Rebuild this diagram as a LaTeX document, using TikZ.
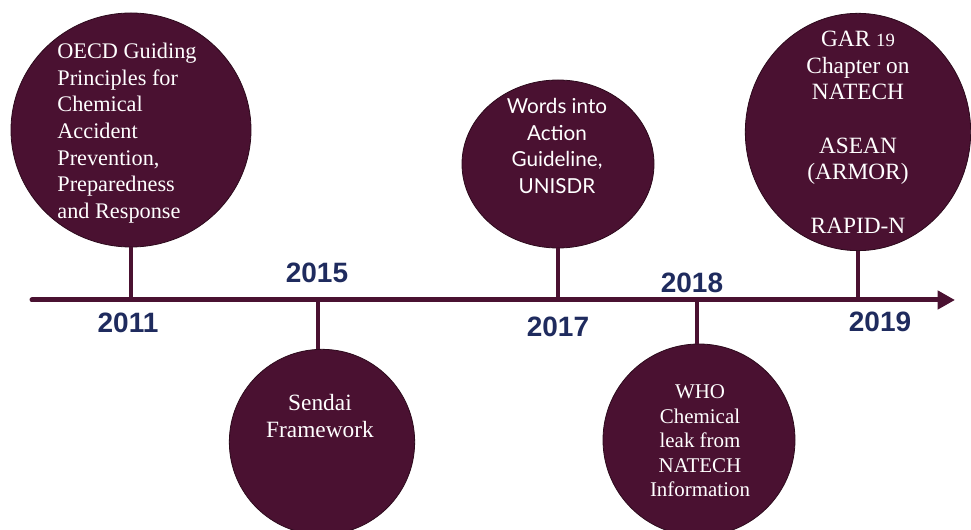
\documentclass[tikz,border=0pt]{standalone}
\usepackage{fontspec}
\setmainfont{Liberation Serif}
\newfontfamily\yearfont{Liberation Sans}
\newfontfamily\gillfont{Lato}
\usetikzlibrary{arrows.meta,shapes.geometric}
\definecolor{plum}{HTML}{4A1131}
\definecolor{plumedge}{HTML}{2C0A1C}
\definecolor{navy}{HTML}{1F2B5E}

\begin{document}
\begin{tikzpicture}[x=0.75pt,y=-0.75pt,
  bubble/.style={ellipse,fill=plum,draw=plumedge,line width=0.6pt,inner sep=0pt},
  btext/.style={text=white,align=center,inner sep=0pt},
  stem/.style={draw=plum,line width=3pt},
  year/.style={text=navy,font=\yearfont\bfseries\fontsize{21}{25}\selectfont}]
\useasboundingbox (0,0) rectangle (971,530);
\clip (0,0) rectangle (971,530);

% time axis
\coordinate (start) at (32,300);
\coordinate (end) at (955,300);
\coordinate (t2011) at (131,300);
\coordinate (t2015) at (318,300);
\coordinate (t2017) at (558,300);
\coordinate (t2018) at (697,300);
\coordinate (t2019) at (858,300);

% events above the axis
\node[bubble,minimum width=180pt,minimum height=175.5pt] (oecd) at (131,130) {};
\node[bubble,minimum width=144pt,minimum height=126pt] (wia) at (558,164) {};
\node[bubble,minimum width=169pt,minimum height=178pt] (gar) at (858,132) {};

% events below the axis
\node[bubble,minimum width=139pt,minimum height=139pt] (sendai) at (322,442) {};
\node[bubble,minimum width=144pt,minimum height=144pt] (who) at (699,440) {};

% stems
\draw[stem] (oecd) -- (t2011);
\draw[stem] (wia) -- (t2017);
\draw[stem] (gar) -- (t2019);
\draw[stem] (t2015) -- (t2015 |- sendai.north);
\draw[stem] (t2018) -- (t2018 |- who.north);

\draw[draw=plum,line width=3.75pt,line cap=round,-{Triangle[length=13pt,width=13.5pt]}] (start) -- (end);

% texts in the bubbles
\node[btext,align=left,font=\fontsize{16.7}{20}\selectfont] (oecd-txt) at (127,133)
  {OECD Guiding\\Principles for\\Chemical\\Accident\\Prevention,\\Preparedness\\and Response};
\node[btext,font=\gillfont\fontsize{15.5}{20}\selectfont] (wia-txt) at (557,146)
  {Words into\\Action\\Guideline,\\UNISDR};
\node[btext,font=\fontsize{17.5}{20}\selectfont] (gar-txt) at (858,132)
  {GAR {\fontsize{14}{20}\selectfont 19}\\Chapter on\\NATECH\\[20pt]ASEAN\\(ARMOR)\\[20pt]RAPID-N};
\node[btext,font=\fontsize{17.5}{20}\selectfont] (sendai-txt) at (320,416)
  {Sendai\\Framework};
\node[btext,font=\fontsize{15.7}{18.4}\selectfont] (who-txt) at (700,441)
  {WHO\\Chemical\\leak from\\NATECH\\Information};

% years
\node[year] (y2011) at (128,323) {2011};
\node[year] (y2015) at (317,273) {2015};
\node[year] (y2017) at (558,327) {2017};
\node[year] (y2018) at (692,283) {2018};
\node[year] (y2019) at (880,322) {2019};
\end{tikzpicture}
\end{document}
